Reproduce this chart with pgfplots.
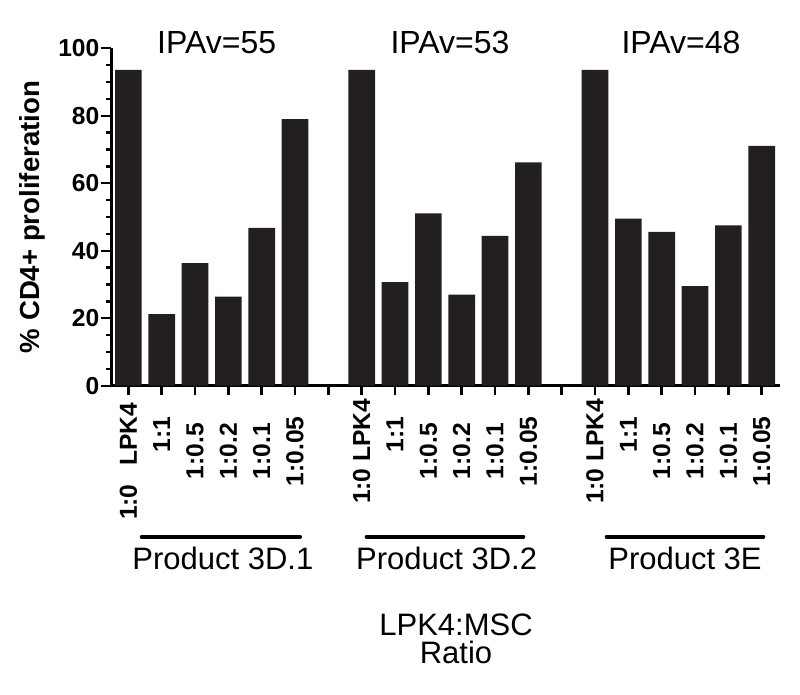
\documentclass[border=0pt]{standalone}
\usepackage{fontspec}
\setmainfont{Liberation Sans}
\usepackage{pgfplots}
\pgfplotsset{compat=1.18}
\definecolor{barcol}{HTML}{231F20}
\begin{document}
\begin{tikzpicture}
\begin{axis}[name=ax, scale only axis, width=334.5pt, height=168.7pt,
 xmin=-0.52, xmax=19.55, ymin=0, ymax=100,
 axis lines=left, axis line style={-, line width=1.5pt, black},
 ytick={0,20,...,100}, minor y tick num=3,
 xtick={0,...,19},
 xticklabels={{1:0\hspace{6pt} LPK4\hspace*{10pt}},{\hspace*{17pt}1:1},1:0.5,1:0.2,1:0.1,1:0.05,{},
              {1:0 LPK4},{\hspace*{17pt}1:1},1:0.5,1:0.2,1:0.1,1:0.05,{},
              {1:0 LPK4},{\hspace*{17pt}1:1},1:0.5,1:0.2,1:0.1,1:0.05},
 tick align=outside,
 major tick length=4.8pt, minor tick length=2.5pt,
 every tick/.style={black, line width=1.2pt},
 /pgf/number format/assume math mode=true,
 yticklabel style={font=\fontsize{12.3}{13}\selectfont\bfseries},
 yticklabel shift=-2.5pt,
 xticklabel style={font=\fontsize{12.3}{13}\selectfont\bfseries, rotate=90, anchor=center},
 xticklabel shift=28pt,
 ylabel={\% CD4+ proliferation},
 ylabel style={font=\fontsize{13.8}{15}\selectfont\bfseries, at={(axis description cs:-0.1173,0.5)}, anchor=center},
 clip=false,
 ybar, bar width=0.8,
]
\addplot[fill=barcol, draw=none] coordinates {
 (0,93.6) (1,21.2) (2,36.3) (3,26.4) (4,46.8) (5,79.0)
 (7,93.6) (8,30.7) (9,51.1) (10,27.0) (11,44.4) (12,66.2)
 (14,93.6) (15,49.5) (16,45.6) (17,29.5) (18,47.5) (19,71.1)
};
\draw[line width=2pt, line cap=round] (axis cs:0.40,-44.8) -- (axis cs:5.15,-44.8);
\draw[line width=2pt, line cap=round] (axis cs:7.15,-44.8) -- (axis cs:11.85,-44.8);
\draw[line width=2pt, line cap=round] (axis cs:14.35,-44.8) -- (axis cs:19.05,-44.8);
\node[anchor=base, font=\fontsize{15.5}{17}\selectfont] at (axis cs:2.835,-54.6) {Product 3D.1};
\node[anchor=base, font=\fontsize{15.5}{17}\selectfont] at (axis cs:9.55,-54.6) {Product 3D.2};
\node[anchor=base, font=\fontsize{15.5}{17}\selectfont] at (axis cs:16.7,-54.6) {Product 3E};
\node[anchor=base, font=\fontsize{16}{17}\selectfont] at (axis cs:2.65,98.5) {IPAv=55};
\node[anchor=base, font=\fontsize{16}{17}\selectfont] at (axis cs:9.65,98.5) {IPAv=53};
\node[anchor=base, font=\fontsize{16}{17}\selectfont] at (axis cs:16.58,98.5) {IPAv=48};
\node[anchor=north, inner sep=0pt, align=center, font=\fontsize{15.5}{14}\selectfont] at (axis cs:9.83,-67.6) {LPK4:MSC\\Ratio};
\end{axis}
\pgfresetboundingbox
\path[use as bounding box] ([shift={(-55.5pt,-154.15pt)}]ax.south west) rectangle ([shift={(10pt,24.15pt)}]ax.north east);
\end{tikzpicture}
\end{document}
